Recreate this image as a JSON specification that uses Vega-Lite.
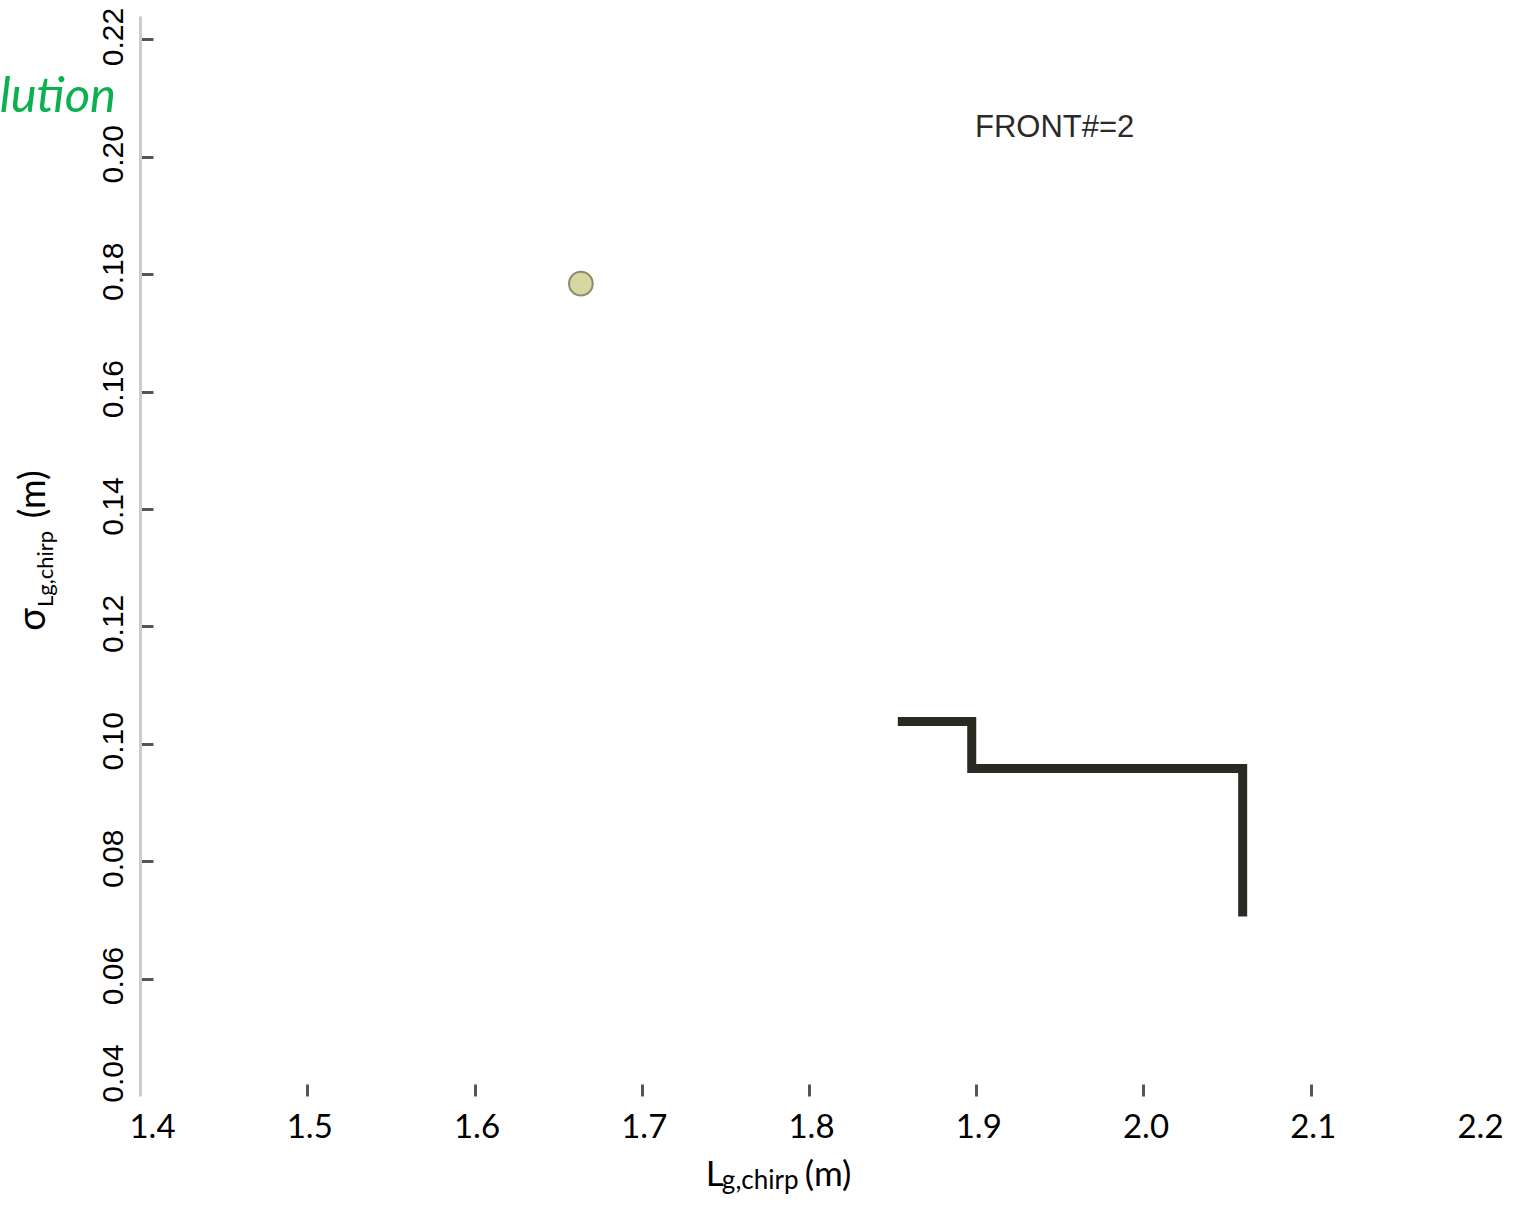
{
  "$schema": "https://vega.github.io/schema/vega-lite/v6.json",
  "width": 1338,
  "height": 1080,
  "autosize": {"type": "none"},
  "padding": {"left": 140, "top": 16, "right": 36, "bottom": 112},
  "background": "white",
  "config": {"view": {"stroke": null}},
  "datasets": {
    "front": [
      {"L": 1.8531, "sigma": 0.1038},
      {"L": 1.8973, "sigma": 0.0958},
      {"L": 2.0593, "sigma": 0.0706}
    ],
    "solution": [
      {"L": 1.6636, "sigma": 0.1784}
    ],
    "single": [{}]
  },
  "layer": [
    {
      "data": {"name": "front"},
      "mark": {"type": "line", "interpolate": "step-after", "stroke": "#2a2a22", "strokeWidth": 9, "strokeCap": "butt", "strokeJoin": "miter"},
      "encoding": {
        "x": {
          "field": "L", "type": "quantitative",
          "scale": {"domain": [1.4, 2.2], "nice": false, "zero": false},
          "axis": {
            "title": null,
            "values": [1.4, 1.5, 1.6, 1.7, 1.8, 1.9, 2.0, 2.1, 2.2],
            "format": ".1f",
            "domain": false,
            "grid": false,
            "tickSize": -12,
            "tickWidth": 3,
            "tickColor": "#555555",
            "tickOpacity": {"condition": {"test": "datum.value < 1.45 || datum.value > 2.15", "value": 0}, "value": 1},
            "labelFlush": false,
            "labelOffset": {"condition": {"test": "datum.value < 1.45", "value": 12}, "value": 2},
            "labelFont": "Lato",
            "labelFontSize": 33,
            "labelColor": "#000000",
            "labelPadding": 27
          }
        },
        "y": {
          "field": "sigma", "type": "quantitative",
          "scale": {"domain": [0.04, 0.224], "nice": false, "zero": false},
          "axis": {
            "title": null,
            "values": [0.04, 0.06, 0.08, 0.1, 0.12, 0.14, 0.16, 0.18, 0.2, 0.22],
            "format": ".2f",
            "grid": false,
            "domainColor": "#cccccc",
            "domainWidth": 3,
            "tickSize": -13,
            "tickWidth": 3,
            "tickColor": "#555555",
            "tickOpacity": {"condition": {"test": "datum.value < 0.05", "value": 0}, "value": 1},
            "labelFlush": false,
            "labelOffset": {"condition": {"test": "datum.value < 0.05", "value": -23}, "value": -3},
            "labelAngle": 270,
            "labelFont": "Liberation Sans",
            "labelFontSize": 30,
            "labelColor": "#000000",
            "labelPadding": 25
          }
        }
      }
    },
    {
      "data": {"name": "solution"},
      "mark": {"type": "point", "shape": "circle", "filled": true, "fill": "#d5d8a2", "stroke": "#8c8c6a", "strokeWidth": 2, "size": 560, "opacity": 1},
      "encoding": {
        "x": {"field": "L", "type": "quantitative"},
        "y": {"field": "sigma", "type": "quantitative"}
      }
    },
    {
      "data": {"name": "single"},
      "mark": {"type": "text", "text": "FRONT#=2", "font": "Liberation Sans", "fontSize": 31, "fill": "#2a2a2a", "align": "center", "baseline": "middle"},
      "encoding": {"x": {"datum": 1.9469}, "y": {"datum": 0.205}}
    },
    {
      "data": {"name": "single"},
      "mark": {"type": "text", "text": "lution", "font": "Lato", "fontStyle": "italic", "fontSize": 49, "fill": "#0bb04f", "align": "right", "baseline": "alphabetic"},
      "encoding": {"x": {"datum": 1.3857}, "y": {"datum": 0.20756}}
    },
    {
      "data": {"name": "single"},
      "mark": {"type": "text", "text": "L", "font": "Lato", "fontSize": 35, "fill": "#000000", "align": "left", "baseline": "alphabetic"},
      "encoding": {"x": {"datum": 1.7383}, "y": {"datum": 0.0246}}
    },
    {
      "data": {"name": "single"},
      "mark": {"type": "text", "text": "g,chirp", "font": "Lato", "fontSize": 26, "fill": "#000000", "align": "left", "baseline": "alphabetic"},
      "encoding": {"x": {"datum": 1.7479}, "y": {"datum": 0.02409}}
    },
    {
      "data": {"name": "single"},
      "mark": {"type": "text", "text": "(m)", "font": "Lato", "fontSize": 35, "fill": "#000000", "align": "left", "baseline": "alphabetic"},
      "encoding": {"x": {"datum": 1.7975}, "y": {"datum": 0.0246}}
    },
    {
      "data": {"name": "single"},
      "mark": {"type": "text", "text": "σ", "font": "Lato", "fontSize": 38, "fill": "#000000", "align": "center", "baseline": "alphabetic", "angle": 270},
      "encoding": {"x": {"datum": 1.3432}, "y": {"datum": 0.1212}}
    },
    {
      "data": {"name": "single"},
      "mark": {"type": "text", "text": "Lg,chirp", "font": "Lato", "fontSize": 22, "fill": "#000000", "align": "center", "baseline": "alphabetic", "angle": 270},
      "encoding": {"x": {"datum": 1.348}, "y": {"datum": 0.12979}}
    },
    {
      "data": {"name": "single"},
      "mark": {"type": "text", "text": "(m)", "font": "Lato", "fontSize": 36, "fill": "#000000", "align": "center", "baseline": "alphabetic", "angle": 270},
      "encoding": {"x": {"datum": 1.3432}, "y": {"datum": 0.1425}}
    }
  ]
}
